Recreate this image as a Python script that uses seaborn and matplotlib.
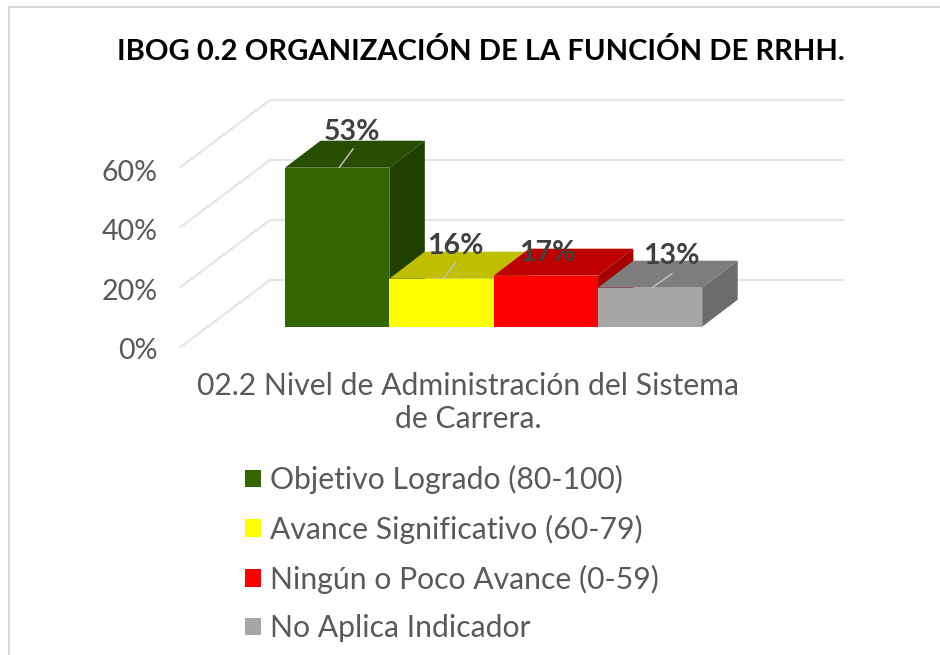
import matplotlib
matplotlib.use('Agg')
import matplotlib.pyplot as plt
import pandas as pd
import seaborn as sns
from matplotlib.lines import Line2D
from matplotlib.patches import Polygon
from matplotlib.transforms import Affine2D, IdentityTransform

categorias = ['Objetivo Logrado (80-100)', 'Avance Significativo (60-79)',
              'Ningún o Poco Avance (0-59)', 'No Aplica Indicador']
valores = [53, 16, 17, 13]
etiquetas = ['53%', '16%', '17%', '13%']
ticks = [0, 20, 40, 60]
tick_labels = ['0%', '20%', '40%', '60%']
titulo = 'IBOG 0.2 ORGANIZACIÓN DE LA FUNCIÓN DE RRHH.'
eje_x = '02.2 Nivel de Administración del Sistema\nde Carrera.'

col_frente = ['#336600', '#FFFF00', '#FF0000', '#A6A6A6']
col_arriba = ['#264D00', '#BFBF00', '#BF0000', '#7D7D7D']
col_lado = ['#1F4000', '#A6A600', '#A60000', '#6C6C6C']

W, H = 940, 655
sns.set_theme(style='white')
plt.rcParams['font.family'] = ['Lato', 'DejaVu Sans']

fig = plt.figure(figsize=(W / 100, H / 100), dpi=100)

# plano frontal del eje: 0% en y=347.5, 3 px por cada 1%
ax_l, ax_r, y0 = 180, 843, 347.5
ax = fig.add_axes([ax_l / W, (H - y0) / H, (ax_r - ax_l) / W, 300 / H])

df = pd.DataFrame({'cat': categorias, 'val': valores})
sns.barplot(data=df, x='cat', y='val', hue='cat', palette=col_frente, width=1,
            legend=True, ax=ax, saturation=1, linewidth=0)

# cada barra mide 104.3 px, la primera empieza en x=285
bar_w = 104.3
ax.set_xlim(-0.5 - (285 - ax_l) / bar_w, -0.5 + (ax_r - 285) / bar_w)
ax.set_ylim(0, 100)
ax.set_yticks(ticks)
ax.set_yticklabels(tick_labels, fontsize=20.5, color='#595959')
ax.tick_params(axis='y', length=0, pad=16)
# las etiquetas del eje van un poco mas juntas que la rejilla
for lab, v in zip(ax.get_yticklabels(), ticks):
    lab.set_transform(lab.get_transform() + Affine2D().translate(0, -1 - v / 30))
ax.set_xticks([])
ax.set_xlabel('')
ax.set_ylabel('')
sns.despine(ax=ax, left=True, bottom=True)
ax.patch.set_alpha(0)

ident = IdentityTransform()

# rejilla: piso inclinado y pared del fondo
fondo_dx, fondo_dy = 90, 67.5
for v in ticks:
    x, y = ax.transData.transform((ax.get_xlim()[0], v))
    ax.plot([x, x + fondo_dx, ax_r], [y, y + fondo_dy, y + fondo_dy], color='#E4E4E4',
            lw=1.5, transform=ident, clip_on=False, zorder=1)

# caras 3D de las barras
dx, dy = 35.5, 27
base_dy = 20.8
desplaza = ax.transData + Affine2D().translate(0, base_dy)
barras = [p for c in ax.containers for p in c][:len(valores)]
for i, barra in enumerate(barras):
    barra.set_transform(desplaza)
    barra.set_clip_on(False)
    barra.set_zorder(2.6 + i)
    (x0, yb), (x1, yt) = desplaza.transform(
        [(barra.get_x(), 0), (barra.get_x() + barra.get_width(), barra.get_height())])
    ax.add_patch(Polygon([(x0, yt), (x0 + dx, yt + dy), (x1 + dx, yt + dy), (x1, yt)],
                         facecolor=col_arriba[i], edgecolor='none', transform=ident,
                         clip_on=False, zorder=2.5 + i))
    ax.add_patch(Polygon([(x1, yt), (x1 + dx, yt + dy), (x1 + dx, yb + dy), (x1, yb)],
                         facecolor=col_lado[i], edgecolor='none', transform=ident,
                         clip_on=False, zorder=2.5 + i))

# etiquetas de datos con su linea guia, desplazadas respecto al centro de la barra
offs = [(15, 36), (14, 33), (2, 23), (21, 32)]
guias = [(14, 19), (12, 16), None, (20, 14)]
for i, barra in enumerate(barras):
    cx, cy = desplaza.transform((barra.get_x() + barra.get_width() / 2, barra.get_height()))
    ax.text(cx + offs[i][0], cy + offs[i][1], etiquetas[i], transform=ident, ha='center',
            va='center', fontsize=20.5, fontweight='bold', color='#404040', zorder=20)
    if guias[i]:
        ax.plot([cx + 2, cx + 2 + guias[i][0]], [cy, cy + guias[i][1]], color='#BFBFBF',
                lw=1.1, transform=ident, zorder=19, clip_on=False)

fig.text(481 / W, 1 - 51 / H, titulo, ha='center', va='center', fontsize=21,
         fontweight='bold', color='black')
fig.text(468 / W, 1 - 402.5 / H, eje_x, ha='center', va='center', fontsize=21.7,
         color='#595959', linespacing=1.19)

sns.move_legend(ax, 'upper left', bbox_to_anchor=(245.5 / W, 1 - 465 / H),
                bbox_transform=fig.transFigure, title=None, frameon=False, fontsize=21.7,
                labelcolor='#595959', handlelength=0.53, handleheight=0.53,
                handletextpad=0.27, labelspacing=0.685, borderpad=0, borderaxespad=0)

# marco gris (solo arriba e izquierda)
fig.add_artist(Line2D([9 / W, 9 / W, 1], [0, 1 - 7 / H, 1 - 7 / H], color='#D9D9D9',
                      lw=1.5, transform=fig.transFigure))

fig.savefig('out.png', dpi=100)
